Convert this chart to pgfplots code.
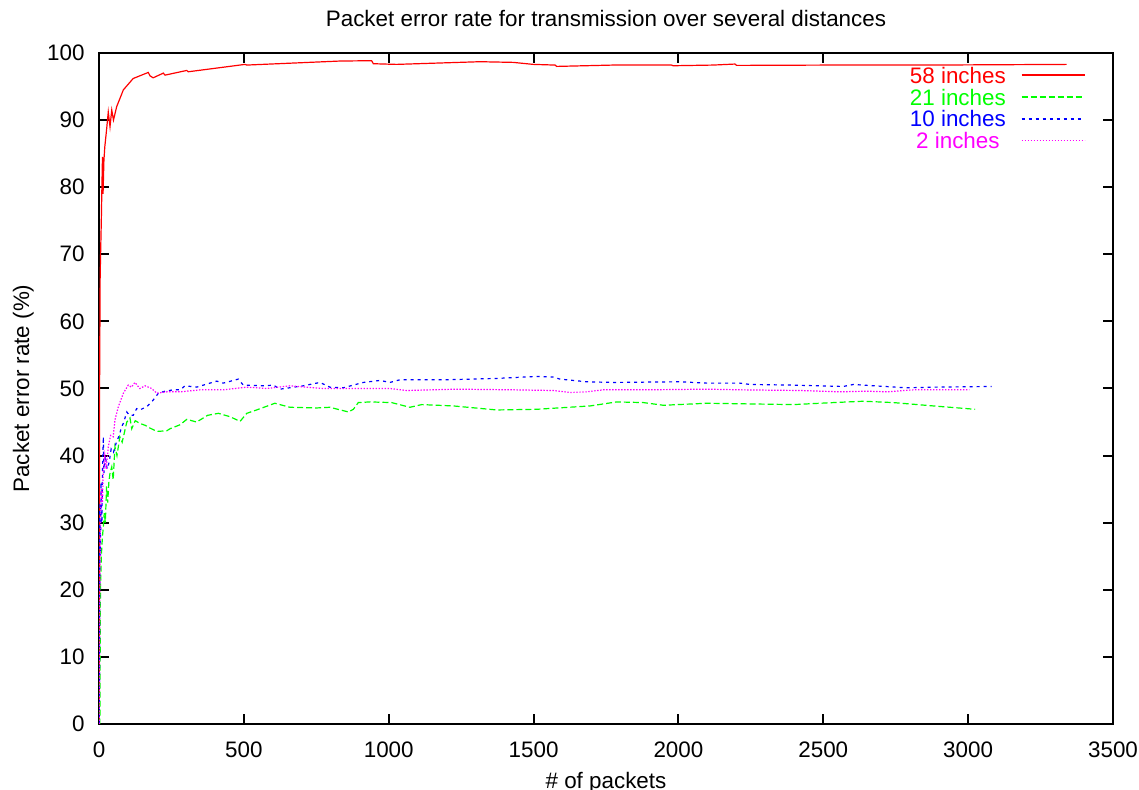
\documentclass[border=0pt]{standalone}
\usepackage{pgfplots}
\pgfplotsset{compat=1.18}
\usepackage{fontspec}
\setmainfont{Liberation Sans}
\definecolor{gred}{rgb}{1,0,0}
\definecolor{ggreen}{rgb}{0,1,0}
\definecolor{gblue}{rgb}{0,0,1}
\definecolor{gmag}{rgb}{1,0,1}
\begin{document}
\fontsize{11.2}{13.4}\selectfont
\begin{tikzpicture}
\begin{axis}[
  scale only axis,
  width=507pt, height=335.5pt,
  xmin=0, xmax=3500, ymin=0, ymax=100,
  xtick={0,500,...,3500}, ytick={0,10,...,100},
  scaled x ticks=false,
  /pgf/number format/assume math mode=true,
  /pgf/number format/1000 sep={},
  axis line style={line width=1pt},
  tick style={line width=1pt, black},
  major tick length=5pt,
  tick align=inside,
  xticklabel style={inner sep=0pt, anchor=north, yshift=-8.6pt},
  yticklabel style={inner sep=0pt, anchor=east, xshift=-7pt},
  title={Packet error rate for transmission over several distances},
  title style={at={(axis description cs:0.5,1.0214)}, anchor=base, inner sep=0pt},
  xlabel={\# of packets},
  xlabel style={at={(axis description cs:0.5,-0.0959)}, anchor=base, inner sep=0pt},
  ylabel={Packet error rate (\%)},
  ylabel style={at={(axis description cs:-0.069,0.5)}, anchor=base, inner sep=0pt},
  legend plot pos=right,
  legend cell align=right,
  legend style={at={(axis description cs:0.9734,0.98)}, anchor=north east,
    draw=none, fill=none, inner sep=0pt, row sep=2.55pt, column sep=7.5pt,
    nodes={inner sep=0pt, text height=8.3pt, text depth=0pt, anchor=base}},
]
\coordinate (bl) at (rel axis cs:0,0);
\coordinate (tr) at (rel axis cs:1,1);
\addplot[color=gred, line width=0.6pt,
  legend image code/.code={\draw[draw=gred, line width=0.9pt] (0pt,4.3pt) -- (31.5pt,4.3pt);}] coordinates {
(1,0) (2,50) (4,66.7) (6,71) (8,75) (10,80) (12,84.5) (14,79) (17,84) (20,86) (26,88.5) (32,91.2) (38,89) (44,91.5) (50,90) (61,92) (84,94.5) (118,96.2) (170,97.1) (176,96.6) (187,96.3) (222,97) (228,96.7) (303,97.4) (308,97.2) (504,98.3) (510,98.2) (832,98.8) (941,98.85) (947,98.4) (1027,98.3) (1315,98.7) (1430,98.6) (1499,98.3) (1574,98.2) (1580,98.0) (1775,98.2) (1976,98.2) (1982,98.1) (2120,98.2) (2195,98.35) (2201,98.15) (2523,98.2) (2868,98.2) (3340,98.3)
};
\addlegendentry[text=gred]{58 inches}
\addplot[color=ggreen, line width=0.6pt, dash pattern=on 3pt off 1.5pt,
  legend image code/.code={\draw[draw=ggreen, line width=0.8pt, dash pattern=on 3pt off 1.5pt] (0pt,4pt) -- (31.5pt,4pt);}] coordinates {
(1,0) (3,0) (5,20) (8,25) (12,28) (15,29.4) (18,31.4) (22,30) (26,35.4) (30,33) (34,36) (38,37.4) (44,38.3) (49,36.4) (55,41.3) (62,40) (72,42.8) (80,42) (96,45) (107,45.6) (113,44) (125,45.2) (141,44.8) (160,44.5) (176,44.1) (200,43.6) (234,43.7) (245,44) (280,44.6) (303,45.4) (337,45) (375,46) (412,46.3) (452,45.8) (487,45.1) (510,46.3) (544,46.8) (607,47.8) (659,47.2) (751,47.1) (797,47.2) (861,46.5) (878,46.9) (895,47.9) (935,48) (1010,47.9) (1073,47.2) (1114,47.6) (1223,47.4) (1373,46.8) (1511,46.9) (1695,47.4) (1787,48) (1879,47.9) (1948,47.5) (2098,47.8) (2247,47.7) (2397,47.6) (2535,47.9) (2638,48.1) (2742,47.9) (2880,47.4) (3024,46.9)
};
\addlegendentry[text=ggreen]{21 inches}
\addplot[color=gblue, line width=0.6pt, dash pattern=on 1.5pt off 2pt,
  legend image code/.code={\draw[draw=gblue, line width=0.8pt, dash pattern=on 1.5pt off 2pt] (0pt,4pt) -- (31.5pt,4pt);}] coordinates {
(1,0) (3,33) (5,25) (7,36) (10,30) (12,38) (15,42.8) (17,37.4) (22,40) (28,38) (35,39) (42,41) (50,40.5) (60,42) (70,43) (78,44.3) (84,44.8) (96,46.5) (105,46) (118,46) (130,47) (141,46.8) (165,47.3) (182,48) (205,49.3) (228,49.6) (257,49.8) (280,49.8) (297,50.4) (337,50.2) (383,50.8) (406,51.1) (429,50.8) (481,51.4) (498,50.5) (567,50.4) (602,50.5) (625,49.9) (705,50.4) (763,50.9) (797,50.2) (843,50.1) (912,50.9) (970,51.2) (1004,50.9) (1039,51.3) (1200,51.3) (1373,51.5) (1511,51.8) (1568,51.7) (1591,51.4) (1683,51) (1775,50.9) (2005,51) (2098,50.8) (2212,50.8) (2247,50.6) (2397,50.5) (2569,50.3) (2604,50.6) (2638,50.5) (2788,50.1) (2880,50.2) (3081,50.3)
};
\addlegendentry[text=gblue]{10 inches}
\addplot[color=gmag, line width=0.6pt, dash pattern=on 0.7pt off 0.8pt,
  legend image code/.code={\draw[draw=gmag, line width=0.8pt, dash pattern=on 0.7pt off 0.8pt] (0pt,4pt) -- (31.5pt,4pt);}] coordinates {
(1,0) (3,20) (5,30) (8,35) (12,33) (15,37.9) (20,40) (25,38) (32,41.3) (40,43) (49,42.8) (55,45.3) (67,47.3) (84,49.3) (101,50.5) (112,50.2) (124,50.9) (141,50) (159,50.4) (182,50) (199,49.3) (234,49.5) (280,49.5) (349,49.8) (429,49.8) (510,50.2) (579,50) (659,50.4) (774,50) (889,50) (1004,50) (1062,49.7) (1235,49.9) (1430,49.8) (1568,49.7) (1626,49.4) (1683,49.5) (1741,49.8) (1890,49.8) (2098,49.9) (2212,49.8) (2420,49.7) (2558,49.5) (2650,49.6) (2719,49.5) (2811,49.8) (3004,49.8)
};
\addlegendentry[text=gmag]{2 inches}
\end{axis}
\pgfresetboundingbox
\path ([shift={(-49.5pt,-33pt)}]bl) rectangle ([shift={(13pt,26.5pt)}]tr);
\end{tikzpicture}
\end{document}
